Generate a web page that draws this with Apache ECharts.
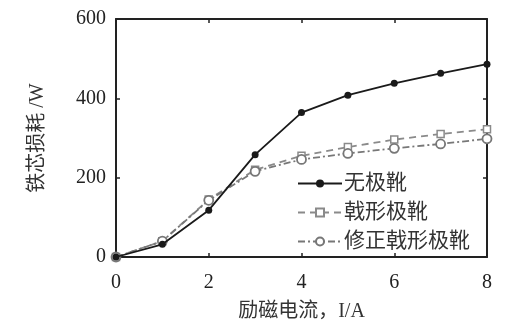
<!DOCTYPE html>
<html>
<head>
<meta charset="utf-8">
<script src="https://cdn.jsdelivr.net/npm/echarts@6/dist/echarts.min.js"></script>
<style>
  html, body { margin: 0; padding: 0; background: #fff; }
  #chart { width: 520px; height: 328px; }
</style>
</head>
<body>
<div id="chart"></div>
<script>
// Excitation current (A)
const currents = [0, 1, 2, 3, 4, 5, 6, 7, 8];
// Iron-core loss (W) for each pole-shoe design
const noShoe = [0, 32, 118, 258, 364, 408, 438, 463, 486];
const halberdShoe = [0, 40, 145, 220, 255, 277, 296, 310, 322];
const modifiedShoe = [0, 40, 143, 216, 246, 261, 274, 285, 298];
const seriesNames = ['无极靴', '戟形极靴', '修正戟形极靴'];
const xTicks = [0, 2, 4, 6, 8];
const yTicks = [0, 200, 400, 600];

const numFont = '"Liberation Serif", "DejaVu Serif", serif';
const cjkFont = '"Liberation Serif", "Noto Sans CJK SC", serif';

const pair = (ys) => currents.map((x, i) => [x, ys[i]]);

const frameLine = { show: true, onZero: false, lineStyle: { color: '#222', width: 2 } };
const tickIn = { show: true, inside: true, length: 4, lineStyle: { color: '#222', width: 1.5 } };

const chart = echarts.init(document.getElementById('chart'));
chart.setOption({
  animation: false,
  backgroundColor: '#fff',
  grid: { left: 116, right: 33, top: 19, bottom: 71 },
  legend: {
    orient: 'vertical',
    left: 292,
    top: 168,
    itemWidth: 44,
    itemHeight: 10,
    itemGap: 8,
    data: seriesNames,
    textStyle: { fontFamily: cjkFont, fontSize: 21, color: '#333', padding: [0, 0, 0, -3] }
  },
  xAxis: [
    {
      type: 'value', min: 0, max: 8, interval: 2,
      name: '励磁电流，I/A', nameLocation: 'middle', nameGap: 45,
      nameTextStyle: { fontFamily: cjkFont, fontSize: 20, color: '#333' },
      axisLine: frameLine, axisTick: tickIn,
      axisLabel: { fontFamily: numFont, fontSize: 20, color: '#222', margin: 16,
        formatter: (v) => xTicks.includes(v) ? String(v) : '' },
      splitLine: { show: false }
    },
    {
      type: 'value', position: 'top', min: 0, max: 8, interval: 2,
      axisLine: frameLine, axisTick: tickIn, axisLabel: { show: false }, splitLine: { show: false }
    }
  ],
  yAxis: [
    {
      type: 'value', min: 0, max: 600, interval: 200,
      name: '铁芯损耗 /W', nameLocation: 'middle', nameGap: 68, nameRotate: 90,
      nameTextStyle: { fontFamily: cjkFont, fontSize: 20, color: '#333' },
      axisLine: frameLine, axisTick: tickIn,
      axisLabel: { fontFamily: numFont, fontSize: 20, color: '#222', margin: 10,
        formatter: (v) => yTicks.includes(v) ? String(v) : '' },
      splitLine: { show: false }
    },
    {
      type: 'value', position: 'right', min: 0, max: 600, interval: 200,
      axisLine: frameLine, axisTick: tickIn, axisLabel: { show: false }, splitLine: { show: false }
    }
  ],
  series: [
    {
      name: seriesNames[0], type: 'line', data: pair(noShoe),
      symbol: 'circle', symbolSize: 7,
      lineStyle: { color: '#1a1a1a', width: 1.8 },
      itemStyle: { color: '#1a1a1a' }, z: 3
    },
    {
      name: seriesNames[1], type: 'line', data: pair(halberdShoe),
      symbol: 'rect', symbolSize: 7, showAllSymbol: true,
      lineStyle: { color: '#8a8a8a', width: 1.8, type: [7, 5] },
      itemStyle: { color: '#fff', borderColor: '#8a8a8a', borderWidth: 1.5 }, z: 2
    },
    {
      name: seriesNames[2], type: 'line', data: pair(modifiedShoe),
      symbol: 'circle', symbolSize: 9,
      lineStyle: { color: '#777', width: 1.8, type: [7, 3, 2, 3] },
      itemStyle: { color: '#fff', borderColor: '#777', borderWidth: 1.8 }, z: 2
    }
  ]
});
</script>
</body>
</html>
